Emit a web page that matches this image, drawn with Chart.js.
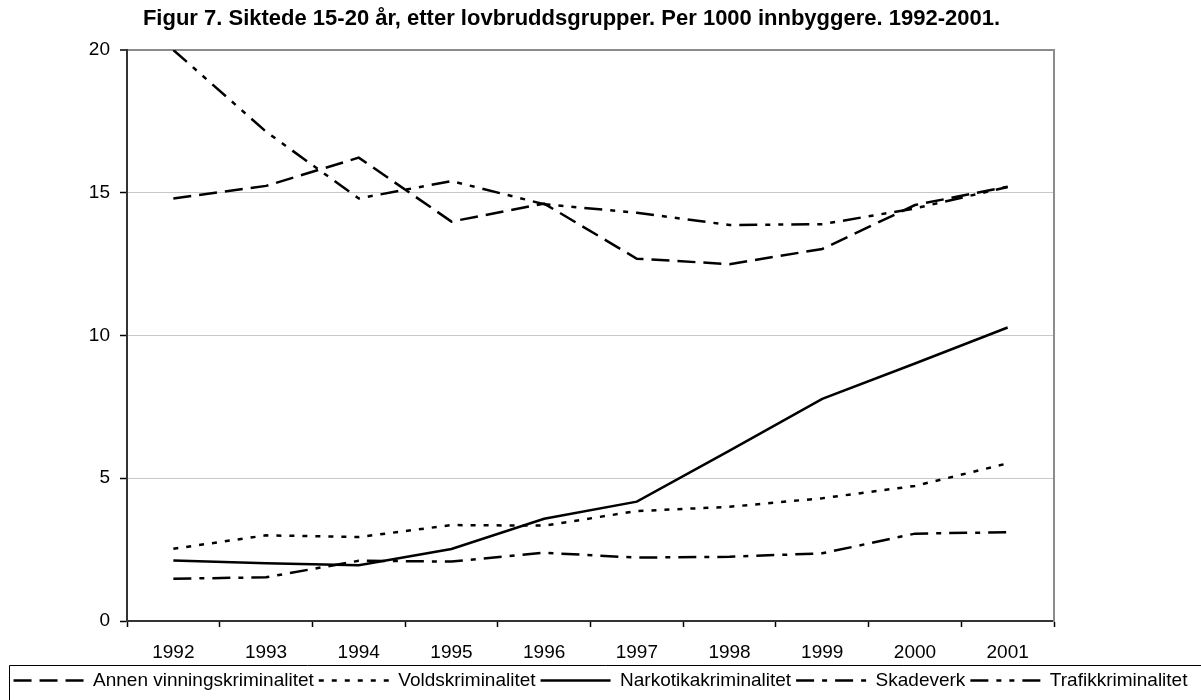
<!DOCTYPE html>
<html>
<head>
<meta charset="utf-8">
<script src="https://cdn.jsdelivr.net/npm/chart.js@4/dist/chart.umd.min.js"></script>
<style>
html,body{margin:0;padding:0;background:#ffffff;}
#wrap{width:1201px;height:700px;}
</style>
</head>
<body>
<div id="wrap"><canvas id="c" width="1201" height="700"></canvas></div>
<script>
// ---- data ----
const years = ['1992','1993','1994','1995','1996','1997','1998','1999','2000','2001'];
const annenVinning = [14.8, 15.24, 16.23, 13.99, 14.62, 12.69, 12.5, 13.03, 14.57, 15.21];
const vold = [2.53, 3.0, 2.94, 3.36, 3.34, 3.85, 4.0, 4.3, 4.73, 5.52];
const narkotika = [2.12, 2.02, 1.95, 2.52, 3.58, 4.18, 5.97, 7.78, 9.02, 10.28];
const skadeverk = [1.48, 1.53, 2.11, 2.08, 2.39, 2.22, 2.25, 2.37, 3.06, 3.11];
const trafikk = [20.0, 17.14, 14.8, 15.41, 14.6, 14.3, 13.87, 13.9, 14.45, 15.2];
const yTicks = [0, 5, 10, 15, 20];
const seriesNames = ['Annen vinningskriminalitet','Voldskriminalitet','Narkotikakriminalitet','Skadeverk','Trafikkriminalitet'];
const titleText = 'Figur 7. Siktede 15-20 år, etter lovbruddsgrupper. Per 1000 innbyggere. 1992-2001.';

const FONT = '"Liberation Sans", Arial, Helvetica, sans-serif';
const LW = 2.5;

function ds(label, data, dash) {
  return {
    label, data,
    borderColor: '#000000', backgroundColor: '#000000',
    borderWidth: LW, borderDash: dash, borderCapStyle: 'butt',
    pointRadius: 0, pointHoverRadius: 0, tension: 0, fill: false
  };
}

const titleShift = {
  id: 'titleShift',
  afterLayout(chart) {
    const t = chart.titleBlock;
    if (t) { t.left = 0; t.right = 1143; }
  }
};

const legendFrame = {
  id: 'legendFrame',
  afterDraw(chart) {
    const lg = chart.legend;
    const ctx = chart.ctx;
    ctx.save();
    ctx.strokeStyle = '#000000';
    ctx.lineWidth = 1;
    ctx.beginPath();
    const y = Math.round(lg.top) - 0.5;
    ctx.moveTo(9.5, chart.height + 5);
    ctx.lineTo(9.5, y);
    ctx.lineTo(chart.width + 5, y);
    ctx.stroke();
    ctx.restore();
  }
};

new Chart(document.getElementById('c'), {
  type: 'line',
  data: {
    labels: years,
    datasets: [
      ds(seriesNames[0], annenVinning, [18, 8]),
      ds(seriesNames[1], vold, [5, 8]),
      ds(seriesNames[2], narkotika, []),
      ds(seriesNames[3], skadeverk, [18, 8, 5, 8]),
      ds(seriesNames[4], trafikk, [18, 8, 5, 8, 5, 8])
    ]
  },
  plugins: [titleShift, legendFrame],
  options: {
    responsive: false,
    animation: false,
    devicePixelRatio: 1,
    layout: { padding: { left: 0, right: 0, top: 0, bottom: 0 } },
    plugins: {
      title: {
        display: true,
        text: titleText,
        color: '#000000',
        font: { family: FONT, size: 22, weight: 'bold' },
        padding: { top: 6, bottom: 17.6 }
      },
      legend: {
        display: true,
        position: 'bottom',
        labels: {
          color: '#000000',
          font: { family: FONT, size: 19 },
          usePointStyle: true,
          pointStyle: 'line',
          pointStyleWidth: 70,
          padding: 5,
          generateLabels(chart) {
            const items = Chart.defaults.plugins.legend.labels.generateLabels(chart);
            items.forEach(it => {
              const d = chart.data.datasets[it.datasetIndex];
              it.lineDash = d.borderDash;
              it.lineWidth = d.borderWidth;
              it.strokeStyle = '#000000';
              it.fillStyle = '#000000';
              it.lineCap = 'butt';
            });
            return items;
          }
        }
      },
      tooltip: { enabled: false }
    },
    scales: {
      x: {
        type: 'category',
        offset: true,
        grid: {
          display: true,
          offset: true,
          drawOnChartArea: false,
          drawTicks: true,
          tickLength: 6,
          tickColor: '#000000',
          tickWidth: 1.5
        },
        border: { display: true, color: '#333333', width: 2 },
        ticks: {
          color: '#000000',
          font: { family: FONT, size: 19 },
          padding: 14,
          maxRotation: 0,
          autoSkip: false
        },
        afterFit(s) { s.height = 45; }
      },
      y: {
        type: 'linear',
        position: 'left',
        min: 0, max: 20,
        afterBuildTicks(s) { s.ticks = yTicks.map(v => ({ value: v })); },
        grid: {
          color: (c) => (c.tick && c.tick.value === 20) ? '#8c8c8c' : '#c8c8c8',
          lineWidth: (c) => (c.tick && c.tick.value === 20) ? 2 : 1,
          drawTicks: true,
          tickLength: 7,
          tickColor: '#000000',
          tickWidth: 1.5
        },
        border: { display: true, color: '#333333', width: 2 },
        ticks: {
          color: '#000000',
          font: { family: FONT, size: 19 },
          padding: 10
        },
        afterFit(s) { s.width = 127; }
      },
      yRight: {
        type: 'linear',
        position: 'right',
        display: true,
        grid: { display: false, drawTicks: false },
        border: { display: true, color: '#8c8c8c', width: 2 },
        ticks: { display: false },
        afterFit(s) { s.width = 147; }
      }
    }
  }
});
</script>
</body>
</html>
